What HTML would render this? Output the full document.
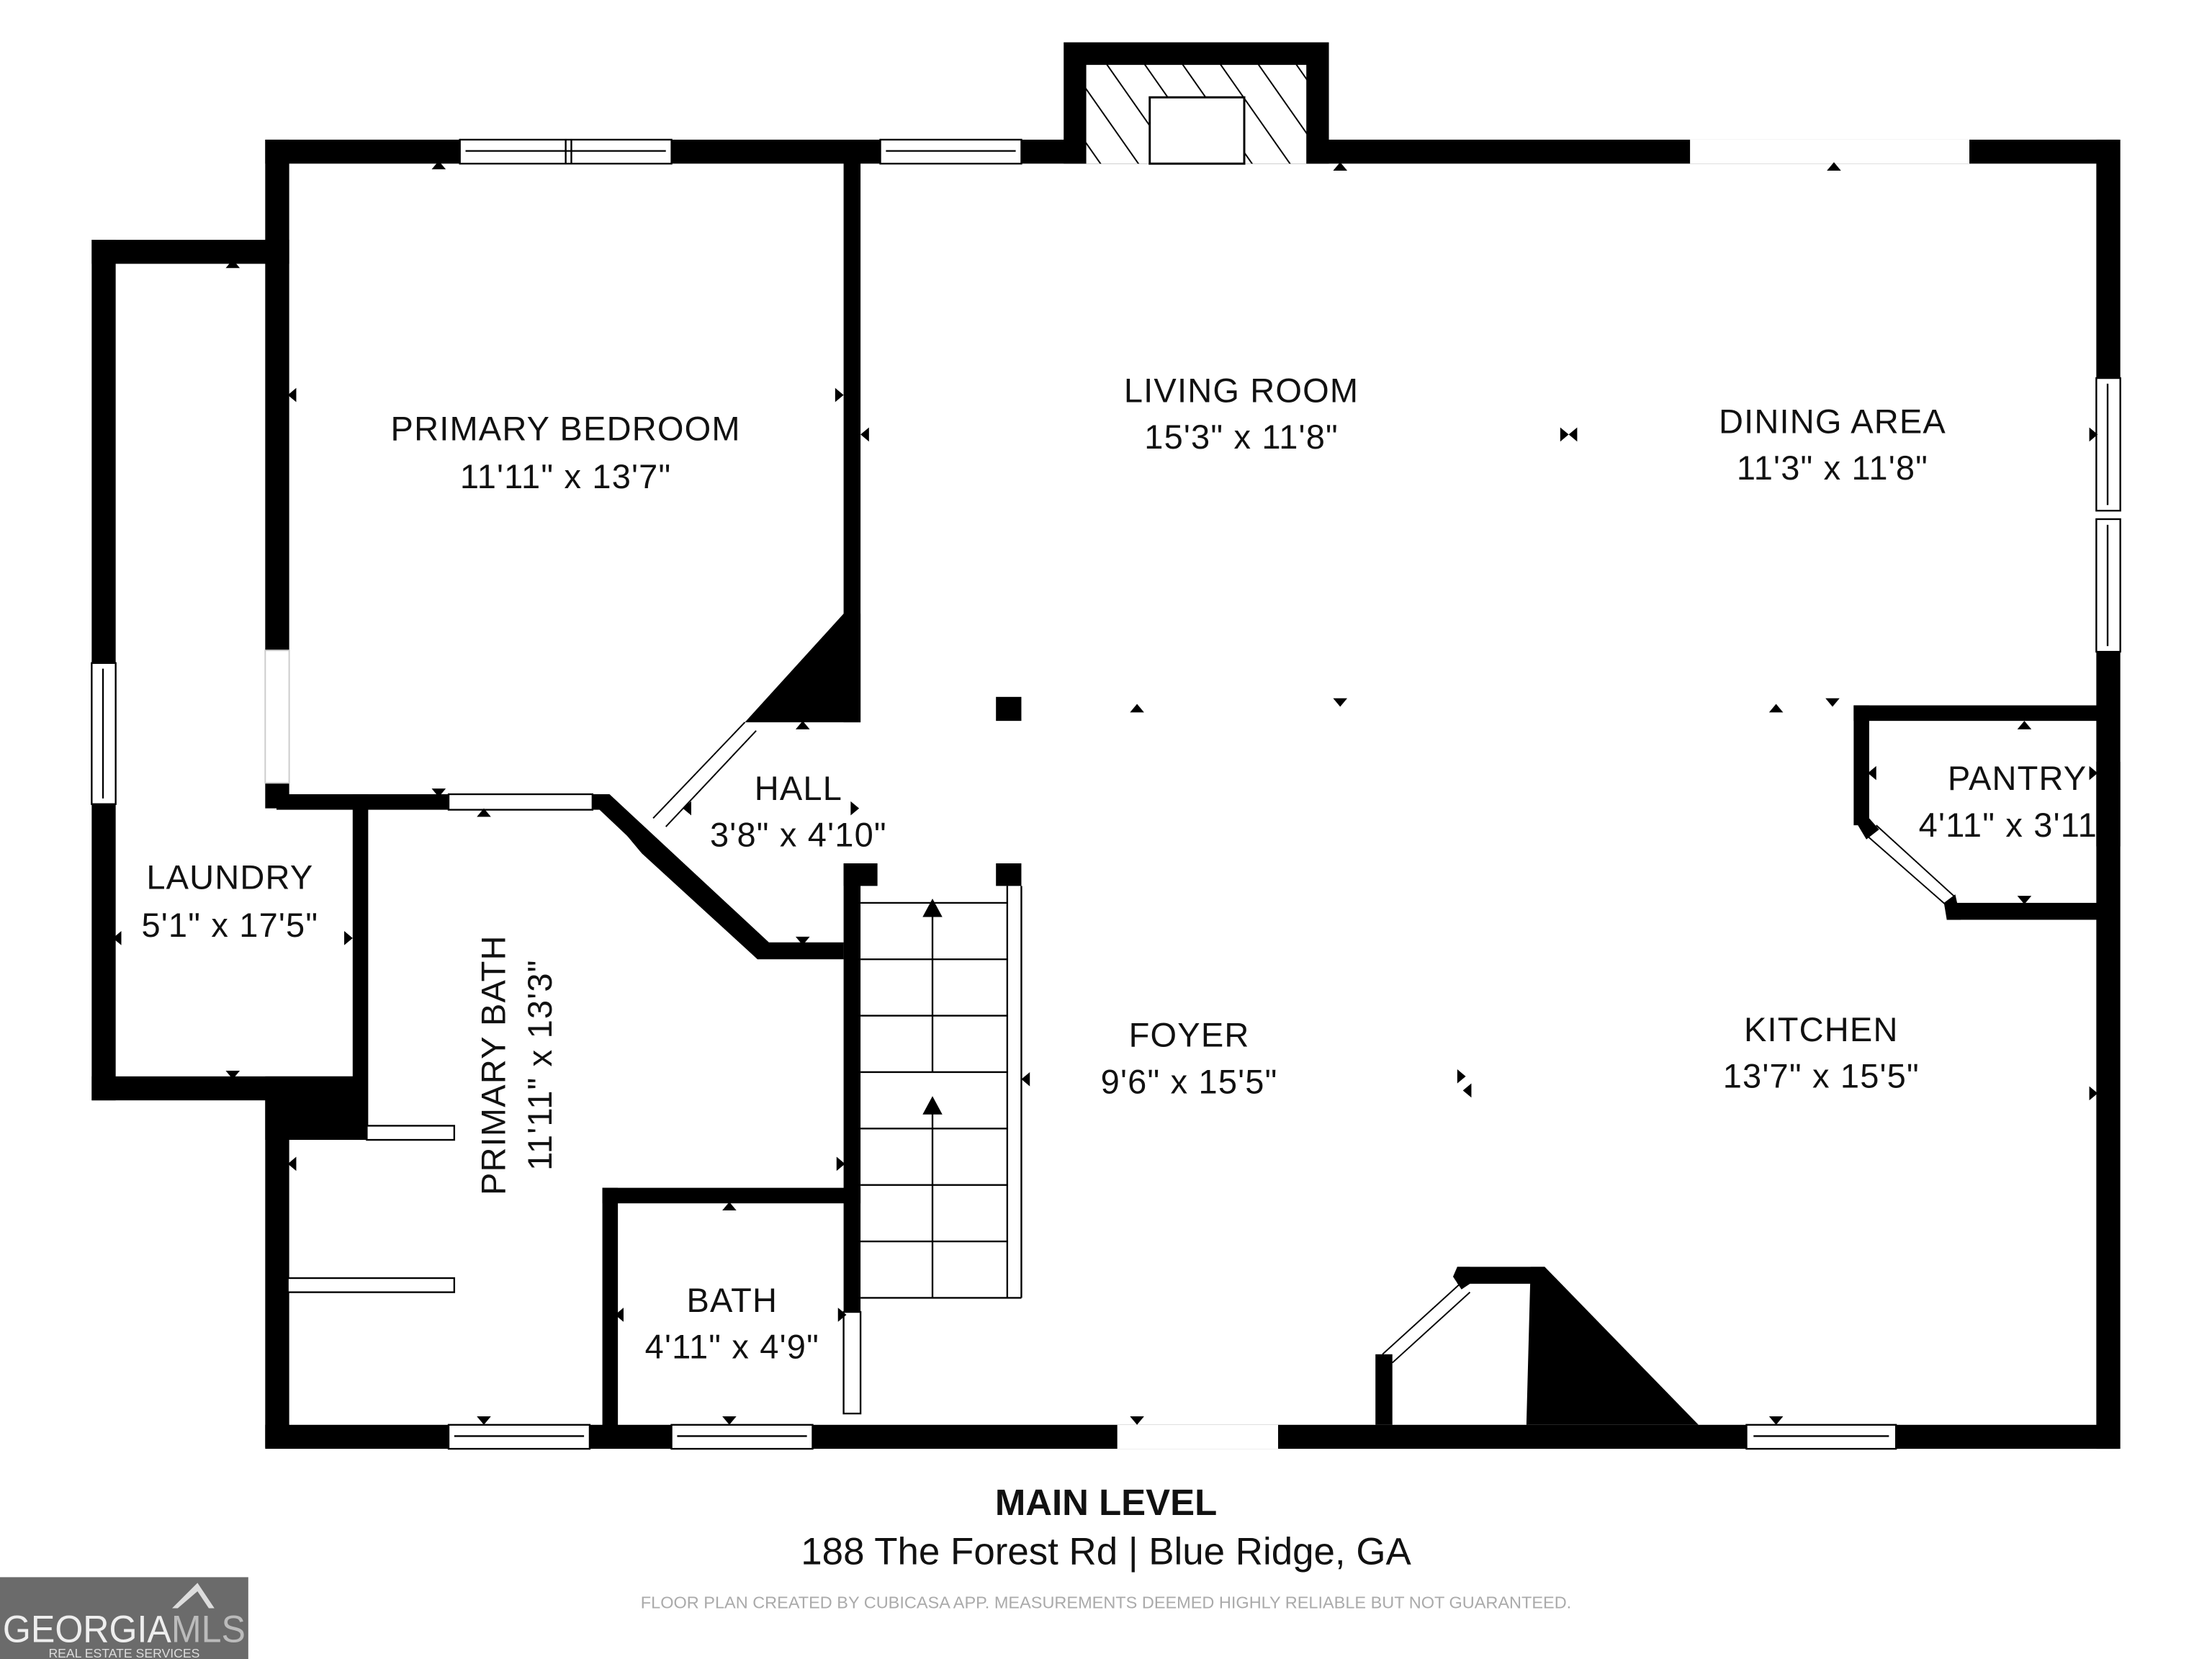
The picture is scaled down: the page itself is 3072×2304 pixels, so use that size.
<!DOCTYPE html>
<html><head><meta charset="utf-8"><style>
html,body{margin:0;padding:0;background:#fff;}
svg{display:block;}
text{font-family:"Liberation Sans",sans-serif;fill:#111;}
</style></head><body>
<svg width="3072" height="2304" viewBox="0 0 1568 1176" xmlns="http://www.w3.org/2000/svg">
<rect width="1568" height="1176" fill="#fff"/>
<defs>
<pattern id="h" width="22" height="22" patternUnits="userSpaceOnUse" patternTransform="rotate(-35)">
<rect width="22" height="22" fill="#fff"/><line x1="0" y1="0" x2="0" y2="22" stroke="#000" stroke-width="2"/>
</pattern>
</defs>
<g fill="#000">
<rect x="188" y="99" width="1314" height="17"/>
<rect x="754" y="30" width="188" height="86"/>
<rect x="770" y="46" width="156" height="70" fill="url(#h)"/>
<rect x="815" y="69" width="67" height="47" fill="#fff" stroke="#000" stroke-width="1.5"/>
<rect x="188" y="99" width="17" height="362"/>
<rect x="188" y="555" width="17" height="18"/>
<rect x="65" y="170" width="140" height="17"/>
<rect x="65" y="170" width="17" height="610"/>
<rect x="65" y="763" width="195" height="17"/>
<rect x="250" y="563" width="11" height="245"/>
<rect x="188" y="763" width="72" height="45"/>
<rect x="188" y="780" width="17" height="246"/>
<rect x="196" y="563" width="122" height="11"/>
<rect x="420" y="563" width="12" height="11"/>
<polygon points="420,563 432,563 545,668 598,668 598,680 537,680 455,605 "/>
<polygon points="432,563 545,668 537,680 425,574"/>
<rect x="598" y="115" width="12" height="397"/>
<polygon points="598,435 610,435 610,512 528,512"/>
<rect x="598" y="612" width="12" height="318"/>
<rect x="598" y="612" width="24" height="16"/>
<rect x="706" y="612" width="18" height="16"/>
<rect x="706" y="494" width="18" height="17"/>
<rect x="427" y="842" width="183" height="11"/>
<rect x="427" y="842" width="11" height="184"/>
<rect x="188" y="1010" width="1314" height="17"/>
<rect x="1486" y="99" width="17" height="170"/>
<rect x="1486" y="462" width="17" height="565"/>
<rect x="1314" y="500" width="180" height="11"/>
<rect x="1314" y="500" width="11" height="85"/>
<rect x="1380" y="640" width="114" height="12"/>
<polygon points="1314,580 1325,580 1332,588 1323,595"/>
<polygon points="1378,640 1386,634 1390,652 1380,652"/>
<rect x="1033" y="898" width="62" height="12"/>
<polygon points="1085,898 1095,898 1204,1010 1082,1010"/>
<rect x="975" y="960" width="12" height="50"/>
<polygon points="1033,898 1042,898 1042,910 1036,914 1030,905"/>
</g>
<g fill="#fff" stroke="#000" stroke-width="1.2">
<rect x="326" y="99" width="150" height="17"/>
<line x1="330" y1="107" x2="472" y2="107"/><line x1="401" y1="99" x2="401" y2="116"/><line x1="405" y1="99" x2="405" y2="116"/>
<rect x="624" y="99" width="100" height="17"/><line x1="628" y1="107" x2="720" y2="107"/>
<rect x="65" y="470" width="17" height="100"/><line x1="73" y1="474" x2="73" y2="566"/>
<rect x="318" y="1010" width="100" height="17"/><line x1="322" y1="1018" x2="414" y2="1018"/>
<rect x="476" y="1010" width="100" height="17"/><line x1="480" y1="1018" x2="572" y2="1018"/>
<rect x="1238" y="1010" width="106" height="17"/><line x1="1243" y1="1018" x2="1339" y2="1018"/>
<rect x="1486" y="268" width="17" height="94"/><line x1="1494" y1="272" x2="1494" y2="358"/>
<rect x="1486" y="368" width="17" height="94"/><line x1="1494" y1="372" x2="1494" y2="458"/>
<rect x="318" y="563" width="102" height="11"/>
<rect x="598" y="930" width="12" height="72"/>
<rect x="260" y="798" width="62" height="10"/>
<rect x="204" y="906" width="118" height="10"/>
</g>
<rect x="1198" y="99" width="198" height="17" fill="#fff"/>
<rect x="792" y="1010" width="114" height="17" fill="#fff"/>
<rect x="188" y="461" width="17" height="94" fill="#fff" stroke="#ccc" stroke-width="1"/>
<g stroke="#000" stroke-width="1" fill="none">
<line x1="528" y1="512" x2="463" y2="580"/><line x1="536" y1="518" x2="472" y2="586"/>
<line x1="1323" y1="592" x2="1380" y2="642"/><line x1="1330" y1="585" x2="1386" y2="636"/>
<line x1="1035" y1="910" x2="980" y2="960"/><line x1="1042" y1="916" x2="987" y2="966"/>
</g>
<g stroke="#000" stroke-width="1.2" fill="none">
<line x1="714" y1="628" x2="714" y2="920"/><line x1="724" y1="628" x2="724" y2="920"/>
<line x1="610" y1="920" x2="724" y2="920"/>
<line x1="610" y1="640" x2="714" y2="640"/><line x1="610" y1="680" x2="714" y2="680"/>
<line x1="610" y1="720" x2="714" y2="720"/><line x1="610" y1="760" x2="714" y2="760"/>
<line x1="610" y1="800" x2="714" y2="800"/><line x1="610" y1="840" x2="714" y2="840"/>
<line x1="610" y1="880" x2="714" y2="880"/>
<line x1="661" y1="645" x2="661" y2="760"/><line x1="661" y1="785" x2="661" y2="920"/>
</g>
<polygon points="654,650 668,650 661,637" fill="#000"/>
<polygon points="654,790 668,790 661,777" fill="#000"/>
<g fill="#000">
<polygon points="306,120 316,120 311,114"/><polygon points="945,121 955,121 950,115"/><polygon points="1295,121 1305,121 1300,115"/>
<polygon points="160,190 170,190 165,184"/><polygon points="160,759 170,759 165,765"/>
<polygon points="801,505 811,505 806,499"/><polygon points="945,495 955,495 950,501"/>
<polygon points="1254,505 1264,505 1259,499"/><polygon points="1294,495 1304,495 1299,501"/>
<polygon points="564,517 574,517 569,511"/><polygon points="564,664 574,664 569,670"/>
<polygon points="306,559 316,559 311,565"/><polygon points="338,579 348,579 343,573"/>
<polygon points="512,858 522,858 517,852"/><polygon points="512,1004 522,1004 517,1010"/>
<polygon points="338,1004 348,1004 343,1010"/><polygon points="801,1004 811,1004 806,1010"/>
<polygon points="1254,1004 1264,1004 1259,1010"/><polygon points="1430,517 1440,517 1435,511"/>
<polygon points="1430,635 1440,635 1435,641"/>
<polygon points="210,275 210,285 204,280"/><polygon points="592,275 592,285 598,280"/>
<polygon points="616,303 616,313 610,308"/><polygon points="1106,303 1106,313 1112,308"/>
<polygon points="1118,303 1118,313 1112,308"/><polygon points="1481,303 1481,313 1487,308"/>
<polygon points="86,660 86,670 80,665"/><polygon points="244,660 244,670 250,665"/>
<polygon points="210,820 210,830 204,825"/><polygon points="593,820 593,830 599,825"/>
<polygon points="442,927 442,937 436,932"/><polygon points="594,927 594,937 600,932"/>
<polygon points="490,568 490,578 484,573"/><polygon points="603,568 603,578 609,573"/>
<polygon points="730,760 730,770 724,765"/><polygon points="1033,758 1033,768 1039,763"/>
<polygon points="1043,768 1043,778 1037,773"/><polygon points="1481,770 1481,780 1487,775"/>
<polygon points="1330,543 1330,553 1324,548"/><polygon points="1481,543 1481,553 1487,548"/>
</g>
<g font-size="24" text-anchor="middle" letter-spacing="0.6">
<text x="401" y="312">PRIMARY BEDROOM</text><text x="401" y="346">11'11" x 13'7"</text>
<text x="880" y="285">LIVING ROOM</text><text x="880" y="318">15'3" x 11'8"</text>
<text x="1299" y="307">DINING AREA</text><text x="1299" y="340">11'3" x 11'8"</text>
<text x="566" y="567">HALL</text><text x="566" y="600">3'8" x 4'10"</text>
<text x="1430" y="560">PANTRY</text><text x="1428" y="593">4'11" x 3'11"</text>
<text x="163" y="630">LAUNDRY</text><text x="163" y="664">5'1" x 17'5"</text>
<text x="843" y="742">FOYER</text><text x="843" y="775">9'6" x 15'5"</text>
<text x="1291" y="738">KITCHEN</text><text x="1291" y="771">13'7" x 15'5"</text>
<text x="519" y="930">BATH</text><text x="519" y="963">4'11" x 4'9"</text>
<text transform="translate(358,755) rotate(-90)">PRIMARY BATH</text>
<text transform="translate(391,755) rotate(-90)">11'11" x 13'3"</text>
</g>
<rect x="1486" y="540" width="17" height="60" fill="#000"/>
<text x="784" y="1074" font-size="26" font-weight="bold" text-anchor="middle">MAIN LEVEL</text>
<text x="784" y="1109" font-size="27" text-anchor="middle">188 The Forest Rd | Blue Ridge, GA</text>
<text x="784" y="1140" font-size="12" text-anchor="middle" style="fill:#aaa">FLOOR PLAN CREATED BY CUBICASA APP. MEASUREMENTS DEEMED HIGHLY RELIABLE BUT NOT GUARANTEED.</text>
<rect x="0" y="1118" width="176" height="58" fill="#6b6b6b"/>
<polygon points="122,1140 140,1122 152,1140 148,1140 140,1128 126,1140" fill="#ddd"/>
<text x="2" y="1164" font-size="27" style="fill:#eee" textLength="172" lengthAdjust="spacingAndGlyphs">GEORGIA<tspan style="fill:#bbb">MLS</tspan></text>
<text x="88" y="1175" font-size="9" text-anchor="middle" style="fill:#ddd">REAL ESTATE SERVICES</text>
</svg>
</body></html>
